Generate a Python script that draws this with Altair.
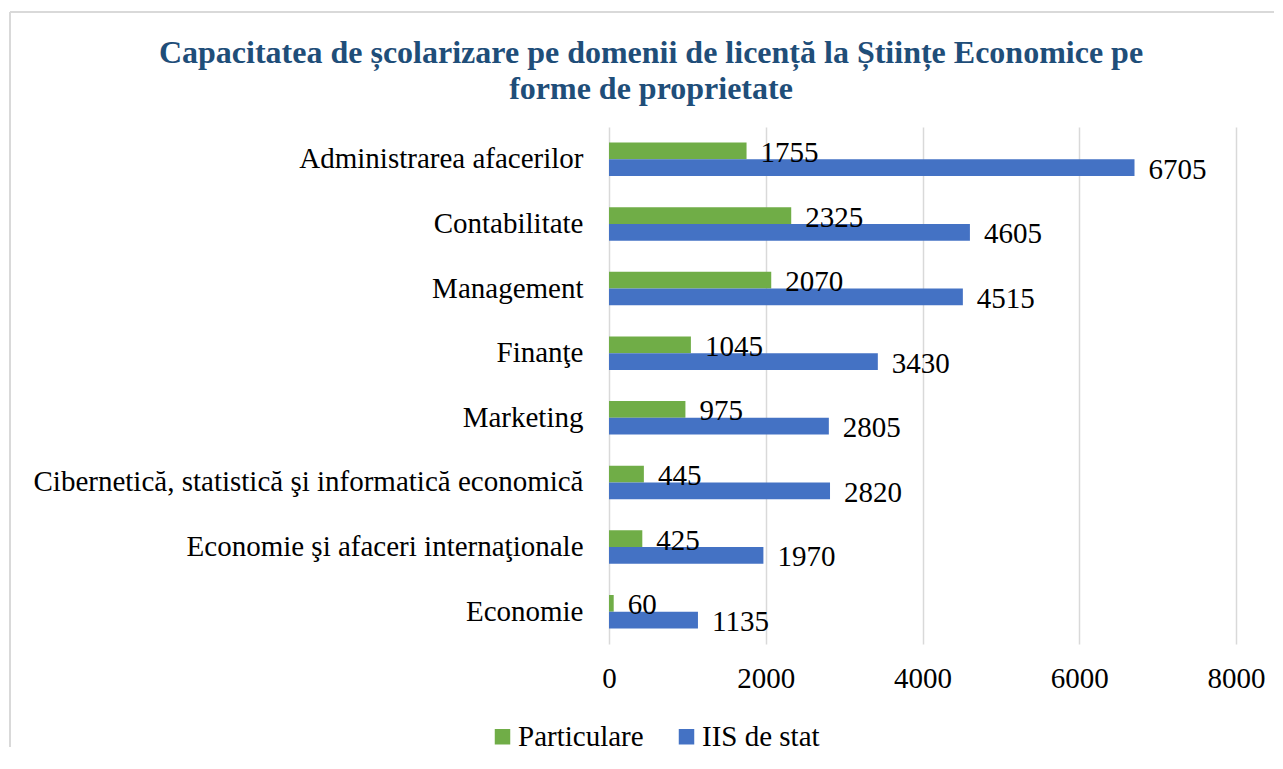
import altair as alt
import pandas as pd

categories = [
    "Administrarea afacerilor",
    "Contabilitate",
    "Management",
    "Finanţe",
    "Marketing",
    "Cibernetică, statistică şi informatică economică",
    "Economie şi afaceri internaţionale",
    "Economie",
]
particulare = [1755, 2325, 2070, 1045, 975, 445, 425, 60]
iis_de_stat = [6705, 4605, 4515, 3430, 2805, 2820, 1970, 1135]
series = ["Particulare", "IIS de stat"]
colors = ["#70AD47", "#4472C4"]
x_ticks = [0, 2000, 4000, 6000, 8000]
title_lines = [
    "Capacitatea de școlarizare pe domenii de licență la Științe Economice pe",
    "forme de proprietate",
]

rows = []
for c, p, s in zip(categories, particulare, iis_de_stat):
    rows.append({"cat": c, "series": series[0], "value": p})
    rows.append({"cat": c, "series": series[1], "value": s})
df = pd.DataFrame(rows)

FONT = "Liberation Serif"
GRID = "#d9d9d9"

y_enc = alt.Y(
    "cat:N",
    sort=categories,
    title=None,
    scale=alt.Scale(paddingInner=0.483, paddingOuter=0.2415),
    axis=alt.Axis(
        labelFont=FONT, labelFontSize=29, labelColor="#000000",
        labelPadding=26, labelLimit=800, ticks=False, domain=False, grid=False,
    ),
)
x_enc = alt.X(
    "value:Q",
    title=None,
    scale=alt.Scale(domain=[0, 8000]),
    axis=alt.Axis(
        values=x_ticks, format="d", labelFont=FONT, labelFontSize=29,
        labelColor="#000000", labelPadding=20, labelFlush=False,
        ticks=False, domain=False,
        grid=True, gridColor=GRID, gridWidth=1.5,
    ),
)
yoff = alt.YOffset("series:N", sort=series)

bars = alt.Chart(df).mark_bar().encode(
    x=x_enc,
    y=y_enc,
    yOffset=yoff,
    color=alt.Color(
        "series:N",
        sort=series,
        scale=alt.Scale(domain=series, range=colors),
        title=None,
        legend=alt.Legend(
            orient="none", legendX=-121, legendY=595, direction="horizontal",
            symbolType="square", symbolSize=240, symbolStrokeWidth=0,
            labelFont=FONT, labelFontSize=29, labelColor="#000000",
            labelOffset=1, columnPadding=28, padding=0,
        ),
    ),
)

labels = alt.Chart(df).mark_text(
    align="left", baseline="middle", dx=14, dy=2,
    font=FONT, fontSize=29, color="#000000",
).encode(
    x=alt.X("value:Q"),
    y=alt.Y("cat:N", sort=categories),
    yOffset=yoff,
    text=alt.Text("value:Q"),
)

one = pd.DataFrame({"k": [0]})
left_border = alt.Chart(one).mark_rule(color=GRID, strokeWidth=2).encode(
    x=alt.value(-599), y=alt.value(-115), y2=alt.value(620)
)
top_border = alt.Chart(one).mark_rule(color=GRID, strokeWidth=2).encode(
    x=alt.value(-599), x2=alt.value(665), y=alt.value(-115)
)

chart = alt.layer(left_border, top_border, bars, labels).properties(
    width=627,
    height=517,
    padding={"left": 1, "top": 3, "right": 0, "bottom": 0},
    title=alt.TitleParams(
        text=title_lines, font=FONT, fontSize=32, fontWeight="bold",
        color="#1F4E79", anchor="middle", frame="bounds", lineHeight=36,
        offset=-95, dx=9,
    ),
).configure_view(stroke=None)

chart.save("out.html", embed_options={"renderer": "svg", "actions": False})
